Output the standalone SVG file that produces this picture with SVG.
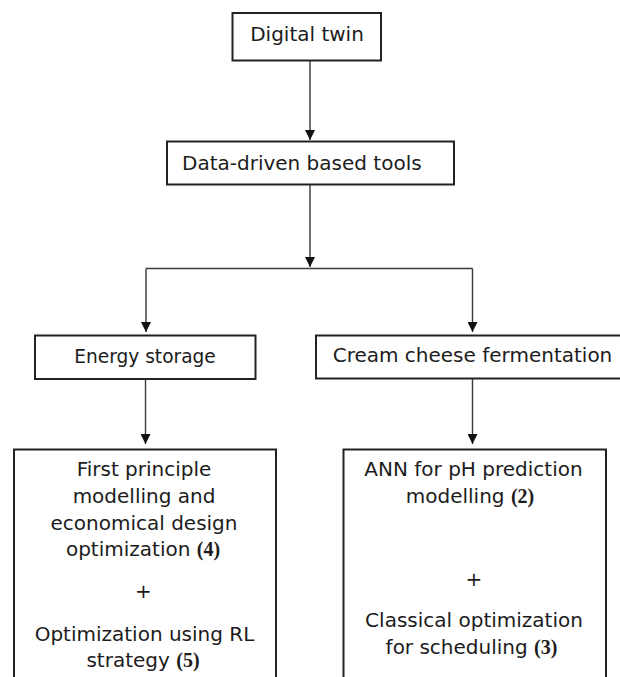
<svg xmlns="http://www.w3.org/2000/svg" width="620" height="677" viewBox="0 0 620 677">
  <style>
    .box { fill: #ffffff; stroke: #222222; stroke-width: 2; }
    .label { font-family: "DejaVu Sans", Verdana, sans-serif; font-size: 20px; fill: #1c1c1c; }
    .ref { font-family: "Liberation Serif", "Times New Roman", serif; font-weight: bold; font-size: 20px; }
    .mid { text-anchor: middle; }
    .link { fill: none; stroke: #3a3a3a; stroke-width: 1.4; }
  </style>
  <defs>
    <marker id="arrow" markerUnits="userSpaceOnUse" markerWidth="10" markerHeight="10" refX="10" refY="5" orient="auto">
      <path d="M0,0 L10,5 L0,10 z" fill="#111111"/>
    </marker>
  </defs>
  <rect width="620" height="677" fill="#ffffff"/>

  <g id="connectors">
    <line class="link" x1="310" y1="61" x2="310" y2="140" marker-end="url(#arrow)"/>
    <line class="link" x1="310" y1="185" x2="310" y2="267" marker-end="url(#arrow)"/>
    <polyline class="link" points="146,268.5 472.5,268.5"/>
    <line class="link" x1="146" y1="268.5" x2="146" y2="332" marker-end="url(#arrow)"/>
    <line class="link" x1="472.5" y1="268.5" x2="472.5" y2="332" marker-end="url(#arrow)"/>
    <line class="link" x1="145.5" y1="379" x2="145.5" y2="444" marker-end="url(#arrow)"/>
    <line class="link" x1="472.5" y1="378" x2="472.5" y2="444" marker-end="url(#arrow)"/>
  </g>

  <g id="digital-twin">
    <rect class="box" x="232.5" y="13" width="148.5" height="47.5"/>
    <text class="label mid" x="307" y="41">Digital twin</text>
  </g>

  <g id="data-driven-tools">
    <rect class="box" x="167" y="141.5" width="287" height="43"/>
    <text class="label" x="182" y="169.5">Data-driven based tools</text>
  </g>

  <g id="energy-storage">
    <rect class="box" x="35" y="335.5" width="220.5" height="43.5"/>
    <text class="label mid" x="145" y="362.5" style="font-size:18.6px">Energy storage</text>
  </g>

  <g id="cream-cheese-fermentation">
    <rect class="box" x="316" y="335.5" width="310" height="43"/>
    <text class="label mid" x="472.5" y="362">Cream cheese fermentation</text>
  </g>

  <g id="energy-storage-methods">
    <rect class="box" x="14" y="449.5" width="262" height="240"/>
    <text class="label mid" x="144" y="476">First principle</text>
    <text class="label mid" x="144" y="503">modelling and</text>
    <text class="label mid" x="144" y="529.5">economical design</text>
    <text class="label mid" x="143" y="556">optimization <tspan class="ref">(4)</tspan></text>
    <text class="label mid" x="143.5" y="598">+</text>
    <text class="label mid" x="144.5" y="640.5">Optimization using RL</text>
    <text class="label mid" x="143" y="667">strategy <tspan class="ref">(5)</tspan></text>
  </g>

  <g id="fermentation-methods">
    <rect class="box" x="343.5" y="449.5" width="262.5" height="240"/>
    <text class="label mid" x="473.5" y="476">ANN for pH prediction</text>
    <text class="label mid" x="470" y="503">modelling <tspan class="ref">(2)</tspan></text>
    <text class="label mid" x="474" y="586">+</text>
    <text class="label mid" x="474" y="627">Classical optimization</text>
    <text class="label mid" x="471.5" y="654">for scheduling <tspan class="ref">(3)</tspan></text>
  </g>
</svg>
